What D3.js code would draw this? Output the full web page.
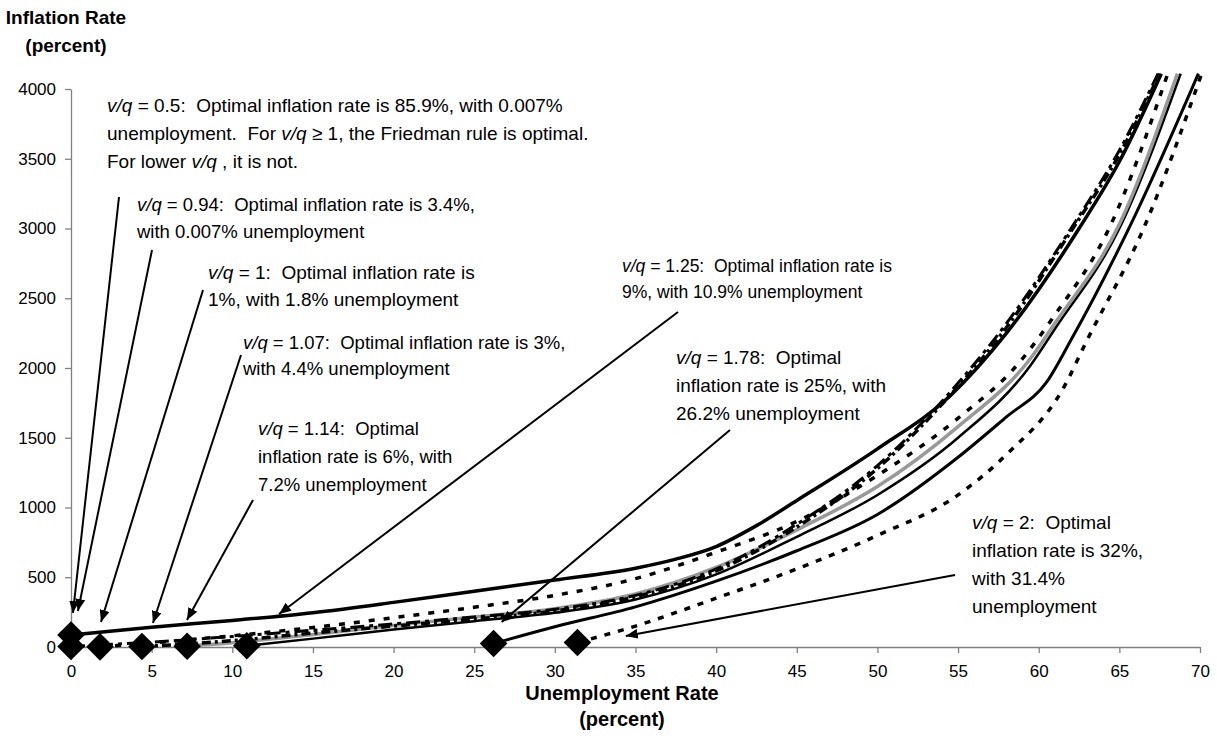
<!DOCTYPE html>
<html>
<head>
<meta charset="utf-8">
<script src="https://cdn.jsdelivr.net/npm/d3@7"></script>
<style>
  body { margin: 0; background: #fff; }
  .tick text { font-family: "Liberation Sans", Arial, sans-serif; font-size: 17px; fill: #000; }
  .axisTitle { font-family: "Liberation Sans", Arial, sans-serif; font-weight: bold; }
  .note { font-family: "Liberation Sans", Arial, sans-serif; white-space: pre; fill: #000; }
</style>
</head>
<body>
<div id="chart"></div>
<script>
// Curves: [unemployment %, inflation %], one per v/q value
var curve050 = [[0, 86], [5, 142], [10, 190], [15, 246], [20, 320], [25, 400], [30, 480], [35, 565], [37.5, 630], [40, 720], [42.5, 870], [45, 1050], [50, 1420], [54.5, 1800], [58, 2250], [62.5, 3000], [65, 3480], [67.6, 4110]];
var curve094 = [[0, 3.4], [5, 35], [10, 75], [15, 120], [20, 165], [25, 215], [30, 270], [35, 370], [40, 560], [45, 880], [50, 1300], [54.3, 1800], [58, 2320], [62, 3000], [65, 3560], [67.4, 4110]];
var curve100 = [[1.8, 1], [5, 30], [10, 80], [15, 140], [20, 210], [25, 285], [30, 370], [35, 490], [40, 680], [45, 900], [50, 1230], [55, 1640], [58.8, 2040], [61, 2380], [64.4, 3010], [68, 4110]];
var curve107 = [[4.4, 3], [10, 45], [15, 100], [20, 150], [25, 200], [30, 258], [35, 360], [40, 545], [45, 860], [50, 1280], [54, 1740], [58, 2290], [62, 2980], [65, 3530], [67.5, 4110]];
var curve114 = [[7.2, 6], [10, 30], [15, 90], [20, 155], [25, 215], [30, 275], [35, 380], [40, 570], [45, 840], [50, 1150], [55, 1580], [59.5, 2070], [61, 2320], [65, 3030], [68.6, 4110]];
var curve125 = [[10.9, 9], [15, 60], [20, 125], [25, 185], [30, 245], [35, 340], [40, 520], [45, 790], [50, 1090], [55, 1500], [59.5, 2020], [61, 2280], [65, 3000], [68.8, 4110]];
var curve178 = [[26.2, 25], [30, 145], [35, 288], [40, 472], [45, 690], [50, 950], [55, 1360], [58, 1650], [60.5, 1900], [62, 2200], [66, 3100], [69.9, 4110]];
var curve200 = [[31.4, 32], [35, 150], [40, 350], [45, 560], [50, 800], [55, 1090], [58, 1380], [61.5, 1850], [63, 2200], [66.5, 3000], [70.1, 4110]];

// Optimal points (diamonds)
var optUnemp = [0, 0, 1.8, 4.4, 7.2, 10.9, 26.2, 31.4];
var optInfl = [85.9, 3.4, 1, 3, 6, 9, 25, 32];

// Axis ticks
var xTicks = d3.range(0, 71, 5);
var yTicks = d3.range(0, 4001, 500);

var svgWidth = 1217;
var svgHeight = 738;

var margin = { top: 89, right: 17, bottom: 91, left: 71 };
var chartWidth = svgWidth - margin.left - margin.right;
var chartHeight = svgHeight - margin.top - margin.bottom;

var svg = d3.select("#chart")
  .append("svg")
  .attr("width", svgWidth)
  .attr("height", svgHeight);

var chartGroup = svg.append("g")
  .attr("transform", `translate(${margin.left}, ${margin.top})`);

var xScale = d3.scaleLinear().domain([0, 70]).range([0, chartWidth]);
var yScale = d3.scaleLinear().domain([0, 4000]).range([chartHeight, 0]);

// axes
var bottomAxis = d3.axisBottom(xScale).tickValues(xTicks).tickSize(6).tickPadding(12).tickSizeOuter(0);
var leftAxis = d3.axisLeft(yScale).tickValues(yTicks).tickFormat(d3.format("d"))
  .tickSize(6).tickPadding(9).tickSizeOuter(0);

var xAxisG = chartGroup.append("g")
  .attr("transform", `translate(0, ${chartHeight})`)
  .call(bottomAxis);
var yAxisG = chartGroup.append("g").call(leftAxis);
[xAxisG, yAxisG].forEach(function(g) {
  g.selectAll("path, line").attr("stroke", "#808080").attr("stroke-width", 1.3);
  g.selectAll("text").attr("font-family", null).attr("font-size", null);
});

// curves
var line = d3.line()
  .x(d => xScale(d[0]))
  .y(d => yScale(d[1]))
  .curve(d3.curveMonotoneX);

var series = [
  { data: curve125, color: "#000", width: 2.5, dash: null },
  { data: curve114, color: "#999", width: 3.5, dash: null },
  { data: curve107, color: "#000", width: 3.5, dash: "9,4,3,4" },
  { data: curve100, color: "#000", width: 3.5, dash: "6,9" },
  { data: curve094, color: "#000", width: 3, dash: "14,5,4,5" },
  { data: curve050, color: "#000", width: 3.5, dash: null },
  { data: curve178, color: "#000", width: 3, dash: null },
  { data: curve200, color: "#000", width: 3.5, dash: "6,8" }
];

chartGroup.selectAll(".curve")
  .data(series)
  .enter()
  .append("path")
  .attr("class", "curve")
  .attr("d", d => line(d.data))
  .attr("fill", "none")
  .attr("stroke", d => d.color)
  .attr("stroke-width", d => d.width)
  .attr("stroke-dasharray", d => d.dash);

// arrow marker
svg.append("defs").append("marker")
  .attr("id", "head")
  .attr("viewBox", "0 0 12 10")
  .attr("refX", 12)
  .attr("refY", 5)
  .attr("markerWidth", 12)
  .attr("markerHeight", 10)
  .attr("markerUnits", "userSpaceOnUse")
  .attr("orient", "auto")
  .append("path")
  .attr("d", "M0,0L12,5L0,10Z")
  .attr("fill", "#000");

// annotations: text lines (pixel layout), leader start and data-space tip
// each line is a list of parts; "v/q" parts are set in italics
var notes = [
  { x: 107, y: 112, size: 19, lh: 28, sx: 119, sy: 197, tip: [0.12, 244],
    lines: [["v/q", " = 0.5:  Optimal inflation rate is 85.9%, with 0.007%"], ["unemployment.  For ", "v/q", " ≥ 1, the Friedman rule is optimal."], ["For lower ", "v/q", " , it is not."]] },
  { x: 137, y: 211, size: 18.5, lh: 27, sx: 152, sy: 250, tip: [0.43, 258],
    lines: [["v/q", " = 0.94:  Optimal inflation rate is 3.4%,"], ["with 0.007% unemployment"]] },
  { x: 208, y: 279, size: 19, lh: 27, sx: 203, sy: 290, tip: [1.86, 179],
    lines: [["v/q", " = 1:  Optimal inflation rate is"], ["1%, with 1.8% unemployment"]] },
  { x: 243, y: 349, size: 18.5, lh: 26, sx: 241, sy: 355, tip: [5.08, 172],
    lines: [["v/q", " = 1.07:  Optimal inflation rate is 3%,"], ["with 4.4% unemployment"]] },
  { x: 258, y: 435, size: 18.5, lh: 28, sx: 253, sy: 500, tip: [7.19, 194],
    lines: [["v/q", " = 1.14:  Optimal"], ["inflation rate is 6%, with"], ["7.2% unemployment"]] },
  { x: 622, y: 272, size: 17.5, lh: 26, sx: 678, sy: 312, tip: [12.9, 237],
    lines: [["v/q", " = 1.25:  Optimal inflation rate is"], ["9%, with 10.9% unemployment"]] },
  { x: 676, y: 364, size: 19, lh: 28, sx: 730, sy: 430, tip: [26.7, 179],
    lines: [["v/q", " = 1.78:  Optimal"], ["inflation rate is 25%, with"], ["26.2% unemployment"]] },
  { x: 972, y: 529, size: 19, lh: 28, sx: 955, sy: 575, tip: [34.4, 79],
    lines: [["v/q", " = 2:  Optimal"], ["inflation rate is 32%,"], ["with 31.4%"], ["unemployment"]] }
];

notes.forEach(function(n) {
  var t = svg.append("text")
    .attr("class", "note")
    .attr("font-size", n.size);
  n.lines.forEach(function(parts, i) {
    parts.forEach(function(p, j) {
      var ts = t.append("tspan").text(p);
      if (p === "v/q") ts.attr("font-style", "italic");
      if (j === 0) ts.attr("x", n.x).attr("y", n.y + i * n.lh);
    });
  });

  svg.append("line")
    .attr("x1", n.sx)
    .attr("y1", n.sy)
    .attr("x2", margin.left + xScale(n.tip[0]))
    .attr("y2", margin.top + yScale(n.tip[1]))
    .attr("stroke", "#000")
    .attr("stroke-width", 2)
    .attr("marker-end", "url(#head)");
});

// diamonds
var diamond = d3.symbol().type(d3.symbolSquare).size(380);
chartGroup.selectAll(".opt")
  .data(optUnemp)
  .enter()
  .append("path")
  .attr("class", "opt")
  .attr("d", diamond)
  .attr("transform", (d, i) => `translate(${xScale(d)}, ${yScale(optInfl[i])}) rotate(45)`)
  .attr("fill", "#000");

// axis titles
svg.append("text").attr("class", "axisTitle").attr("font-size", 19).attr("x", 66).attr("y", 24)
  .attr("text-anchor", "middle").text("Inflation Rate");
svg.append("text").attr("class", "axisTitle").attr("font-size", 19).attr("x", 66).attr("y", 52)
  .attr("text-anchor", "middle").text("(percent)");
svg.append("text").attr("class", "axisTitle").attr("font-size", 20).attr("x", 622).attr("y", 700)
  .attr("text-anchor", "middle").text("Unemployment Rate");
svg.append("text").attr("class", "axisTitle").attr("font-size", 20).attr("x", 622).attr("y", 726)
  .attr("text-anchor", "middle").text("(percent)");
</script>
</body>
</html>
